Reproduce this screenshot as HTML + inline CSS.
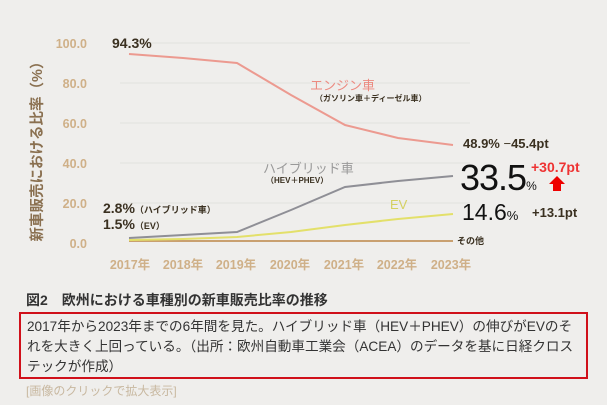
<!DOCTYPE html>
<html><head><meta charset="utf-8"><style>
body{margin:0;width:607px;height:405px;background:#efeeec;overflow:hidden;font-family:"Liberation Sans","Noto Sans CJK JP",sans-serif;}
svg{position:absolute;left:0;top:0}
.t{position:absolute;white-space:nowrap}
</style></head><body>
<svg width="607" height="405">
<g stroke="#e2e1de" stroke-width="1">
<line x1="120" y1="43" x2="470" y2="43"/><line x1="120" y1="83" x2="470" y2="83"/><line x1="120" y1="123" x2="470" y2="123"/><line x1="120" y1="163" x2="470" y2="163"/><line x1="120" y1="203" x2="470" y2="203"/>
</g>
<g font-family="Liberation Sans,Noto Sans CJK JP,sans-serif" font-size="12.5" font-weight="bold" fill="#cfb088" text-anchor="end">
<text x="87" y="48">100.0</text><text x="87" y="88">80.0</text><text x="87" y="128">60.0</text><text x="87" y="168">40.0</text><text x="87" y="208">20.0</text><text x="87" y="248">0.0</text>
</g>
<g font-family="Liberation Sans,Noto Sans CJK JP,sans-serif" font-size="12.5" font-weight="bold" fill="#cfb088" text-anchor="middle">
<text x="130" y="269">2017年</text><text x="183" y="269">2018年</text><text x="236" y="269">2019年</text><text x="290" y="269">2020年</text><text x="344" y="269">2021年</text><text x="397" y="269">2022年</text><text x="451" y="269">2023年</text>
</g>
<text transform="translate(42,148) rotate(-90)" text-anchor="middle" font-family="Liberation Sans,Noto Sans CJK JP,sans-serif" font-size="14.5" font-weight="bold" fill="#8a7050">新車販売における比率（%）</text>
<g fill="none" stroke-width="2">
<polyline stroke="#c9a070" points="129,241 453,241"/>
<polyline stroke="#e3e06a" points="129,240 183,239 237,237 291,232 345,225 398,219 453,214"/>
<polyline stroke="#8f8f96" points="129,238 183,235 237,232 291,210 345,187 398,181 453,176"/>
<polyline stroke="#ec9a90" points="129,54 183,58 237,63 291,95 345,125 398,138 453,145"/>
</g>
<polygon points="549,184 557,176 565,184 561,184 561,191 553,191 553,184" fill="#e00"/>
<rect x="20" y="313" width="567" height="65" fill="none" stroke="#d0101a" stroke-width="2"/>
</svg>
<div class="t" style="left:112px;top:35px;font-size:14px;font-weight:bold;color:#3a3020">94.3%</div>
<div class="t" style="left:310px;top:75px;font-size:13px;color:#ec8a80">エンジン車</div>
<div class="t" style="left:315px;top:93px;font-size:8px;font-weight:bold;color:#3a3020">（ガソリン車＋ディーゼル車）</div>
<div class="t" style="left:263px;top:158px;font-size:13px;color:#999">ハイブリッド車</div>
<div class="t" style="left:266px;top:175px;font-size:8px;font-weight:bold;color:#3a3020">（HEV＋PHEV）</div>
<div class="t" style="left:390px;top:197px;font-size:13px;color:#d4d060">EV</div>
<div class="t" style="left:103px;top:200px;font-size:14px;font-weight:bold;color:#3a3020">2.8%<span style="font-size:9px">（ハイブリッド車）</span></div>
<div class="t" style="left:103px;top:216px;font-size:14px;font-weight:bold;color:#3a3020">1.5%<span style="font-size:9px">（EV）</span></div>
<div class="t" style="left:463px;top:136px;font-size:13px;font-weight:bold;color:#3a3020">48.9% <span style="font-weight:normal">−</span>45.4pt</div>
<div class="t" style="left:460px;top:157px;font-size:36px;color:#111;letter-spacing:-1px">33.5<span style="font-size:12px;letter-spacing:0">%</span></div>
<div class="t" style="left:531px;top:159px;font-size:14px;font-weight:bold;color:#e33">+30.7pt</div>
<div class="t" style="left:462px;top:199px;font-size:23px;color:#111">14.6<span style="font-size:13px">%</span></div>
<div class="t" style="left:532px;top:205px;font-size:13px;font-weight:bold;color:#3a3020">+13.1pt</div>
<div class="t" style="left:457px;top:234px;font-size:9px;font-weight:bold;color:#3a3020">その他</div>
<div class="t" style="left:26px;top:290px;font-size:14px;font-weight:bold;color:#333">図2　欧州における車種別の新車販売比率の推移</div>
<div class="t" style="left:27px;top:317px;font-size:13.6px;line-height:20px;color:#333">2017年から2023年までの6年間を見た。ハイブリッド車（HEV＋PHEV）の伸びがEVのそ<br>れを大きく上回っている。（出所：欧州自動車工業会（ACEA）のデータを基に日経クロス<br>テックが作成）</div>
<div class="t" style="left:26px;top:382px;font-size:12px;color:#c8b8a0">[画像のクリックで拡大表示]</div>
</body></html>
